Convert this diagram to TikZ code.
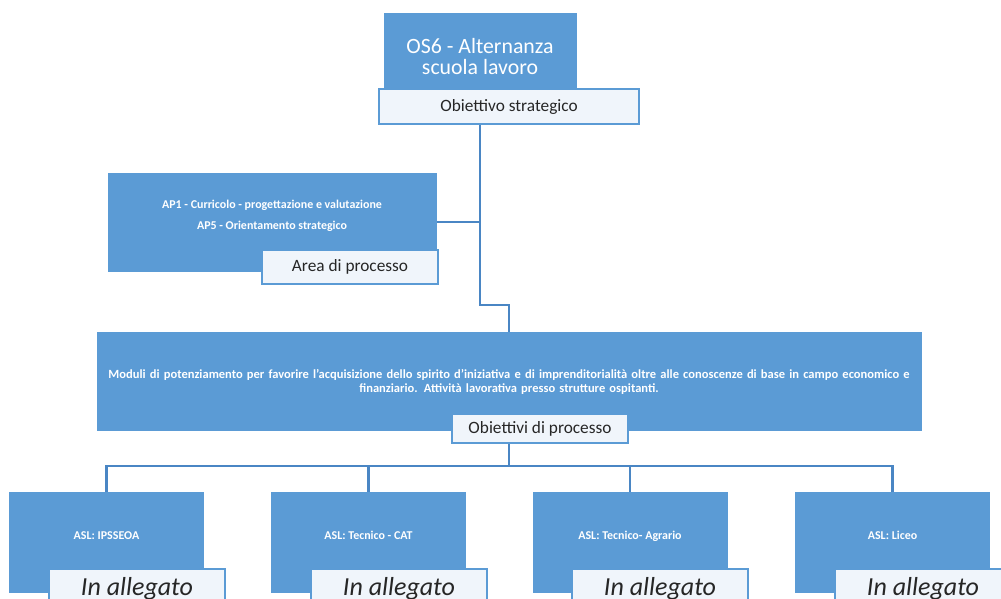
\documentclass[tikz,border=0pt]{standalone}
\usepackage{fontspec}
\setmainfont{Carlito}
\usetikzlibrary{backgrounds}
\definecolor{boxblue}{HTML}{5B9BD5}
\definecolor{lineblue}{HTML}{4A86C4}
\definecolor{labfill}{HTML}{F0F5FB}
\definecolor{labtext}{HTML}{262626}
\begin{document}
\begin{tikzpicture}[x=0.025cm, y=-0.025cm]
\path[use as bounding box, clip] (0,0) rectangle (1001,599);

% definitions
\tikzstyle{box} = [rectangle, inner sep=0pt, text centered, draw=boxblue, fill=boxblue, text=white, font=\bfseries\fontsize{8.5}{15}\selectfont]

\tikzstyle{asl} = [box, minimum width=4.85cm, minimum height=2.5cm, text depth=9pt]

\tikzstyle{tag} = [rectangle, inner sep=0pt, text centered, draw=boxblue, line width=0.9pt, fill=labfill, text=labtext, minimum width=4.4cm, font=\fontsize{12.3}{14}\selectfont]

\tikzstyle{annex} = [tag, minimum height=1cm, font=\itshape\fontsize{18.5}{20}\selectfont]

\tikzstyle{link} = [draw=lineblue, line width=2pt]

% the graph
\node (os) [box, minimum width=4.8cm, minimum height=2.175cm, align=center, font=\fontsize{15.5}{15.6}\selectfont] at (480,56.5) {OS6 - Alternanza\\scuola lavoro};
\node (t0) [tag, minimum width=6.5cm, minimum height=0.875cm] at (509,106.5) {Obiettivo strategico};

\node (ap) [box, minimum width=8.2cm, minimum height=2.45cm, align=center, text depth=10.5pt] at (272,222) {AP1 - Curricolo - progettazione e valutazione\\AP5 - Orientamento strategico};
\node (t1) [tag, minimum height=0.85cm] at (350,267) {Area di processo};

\node (mod) [box, minimum width=20.6cm, minimum height=2.45cm, text width=20.4cm, align=center, text depth=10.5pt, font=\bfseries\fontsize{8.9}{10}\selectfont] at (509,381) {Moduli di potenziamento per favorire l'acquisizione dello spirito d'iniziativa e di imprenditorialità oltre alle conoscenze di base in campo economico e\\ finanziario. Attività lavorativa presso strutture ospitanti.};
\node (t2) [tag, minimum height=0.725cm] at (540,428.5) {Obiettivi di processo};

\node (b1) [asl] at (106.5,542) {ASL: IPSSEOA};
\node (b2) [asl] at (368.5,542) {ASL: Tecnico - CAT};
\node (b3) [asl] at (630,542) {ASL: Tecnico- Agrario};
\node (b4) [asl] at (892.5,542) {ASL: Liceo};

\node (a1) [annex] at (137,589) {In allegato};
\node (a2) [annex] at (399,589) {In allegato};
\node (a3) [annex] at (660,589) {In allegato};
\node (a4) [annex] at (923,589) {In allegato};

% connectors
\coordinate (j1) at (480,305);
\coordinate (j2) at (509,466);

\begin{pgfonlayer}{background}
\draw [link] (os.south) -- (j1) -| (mod.north);
\draw [link] (ap.east) -- (ap.east -| j1);

\draw [link] (mod.south) -- (j2);
\draw [link] (b1.north) |- (j2) -| (b4.north);
\draw [link] (b2.north) -- (b2.north |- j2);
\draw [link] (b3.north) -- (b3.north |- j2);
\end{pgfonlayer}

\end{tikzpicture}
\end{document}
